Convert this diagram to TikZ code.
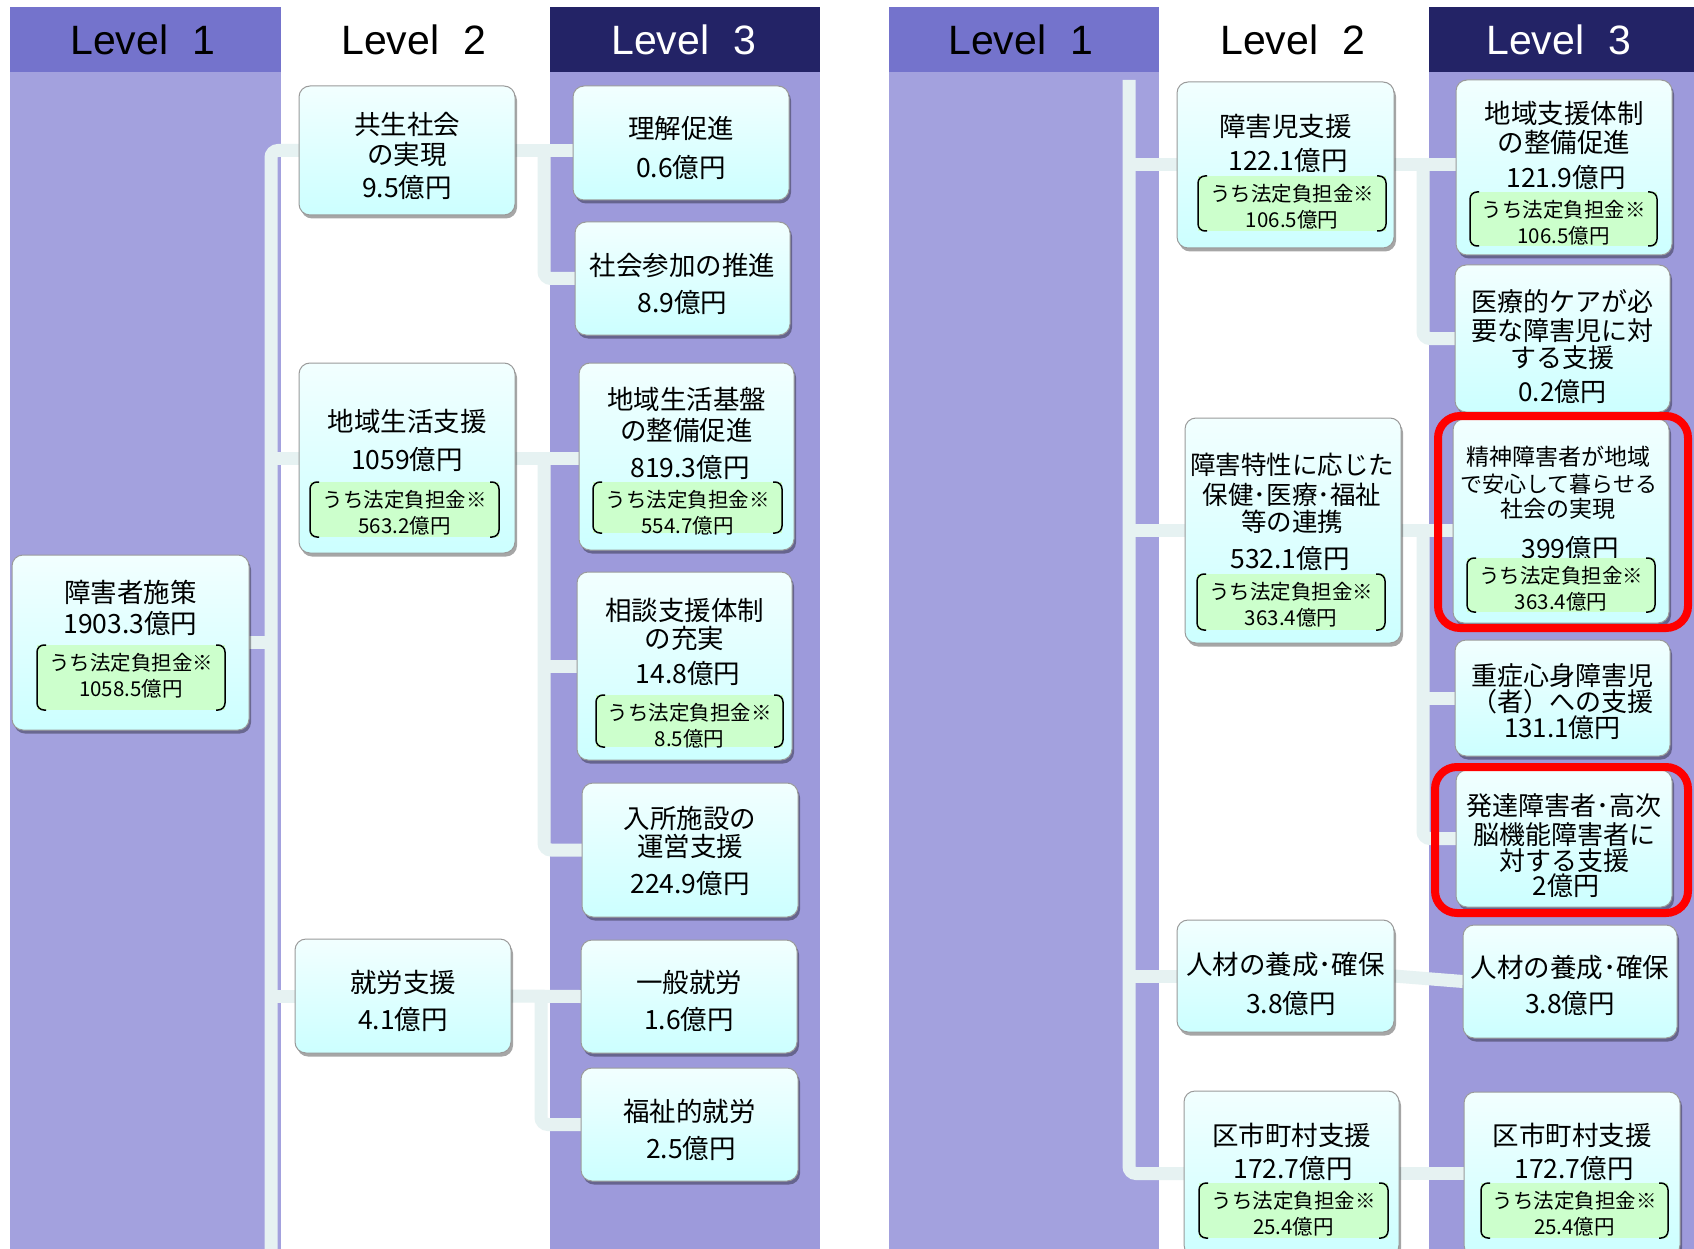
\documentclass[tikz,border=0pt]{standalone}
\usepackage{fontspec}
\newfontfamily\jp{Noto Sans CJK JP}
\newfontfamily\lvl{Liberation Sans}
\usetikzlibrary{shadows,calc}
\definecolor{cOneH}{HTML}{7473CC}
\definecolor{cOneB}{HTML}{A3A1DE}
\definecolor{cThreeH}{HTML}{232366}
\definecolor{cThreeB}{HTML}{9D9ADB}
\definecolor{connc}{HTML}{E6F2F2}
\definecolor{boxtop}{HTML}{F2FFFF}
\definecolor{boxbot}{HTML}{CCFFFF}
\definecolor{boxline}{HTML}{9A9A9A}
\definecolor{gcol}{HTML}{CCFFCC}
\pgfdeclarelayer{bg}
\pgfdeclarelayer{cn}
\pgfsetlayers{bg,cn,main}
\tikzset{
  boxs/.style={draw=boxline, line width=1pt, rounded corners=11pt, top color=boxtop, bottom color=boxbot,
    drop shadow={shadow xshift=2pt, shadow yshift=-3.5pt, fill=black, opacity=0.35}, inner sep=0pt, outer sep=0pt},
  gbox/.style={fill=gcol, inner sep=0pt, outer sep=0pt},
  brk/.style={draw=black, line width=1.5pt, rounded corners=7pt},
  txt/.style={inner sep=0pt, outer sep=0pt},
  conn/.style={draw=connc, line width=13pt, rounded corners=7pt},
  hl/.style={draw=red, line width=8pt, rounded corners=22pt, inner sep=0pt, fill=none},
  hdr/.style={font=\lvl\fontsize{41}{41}\selectfont, anchor=base, inner sep=0pt},
}
\newcommand\Bx[5]{\node[boxs, minimum width={#4-#2}, minimum height={#5-#3}] (#1) at ({(#2+#4)/2},{(#3+#5)/2}) {};}
\newcommand\Tx[5]{\node[txt, font={\jp\fontsize{#4}{#4}\selectfont}, anchor=base] (#1) at ({#2},{#3+0.38*#4}) {#5};}
\newcommand\Gb[6]{%
  \node[gbox, minimum width={#4-#2}, minimum height={#5-#3}] (#1) at ({(#2+#4)/2},{(#3+#5)/2}) {};
  \draw[brk] ([xshift=9pt]#1.north west) -- (#1.north west) -- (#1.south west) -- ([xshift=9pt]#1.south west);
  \draw[brk] ([xshift=-9pt]#1.north east) -- (#1.north east) -- (#1.south east) -- ([xshift=-9pt]#1.south east);
  \Tx{#1-1}{(#2+#4)/2}{(#3+18)}{20.5}{うち法定負担金※}
  \Tx{#1-2}{(#2+#4)/2}{(#3+44)}{20.5}{#6}}
\begin{document}
\begin{tikzpicture}[x=1pt,y=-1pt]
\useasboundingbox (0,0) rectangle (1694,1249);
% columns
\begin{pgfonlayer}{bg}
\fill[white] (0,0) rectangle (1694,1249);
\fill[cOneB] (10,72) rectangle (281,1260);
\fill[cOneH] (10,7) rectangle (281,72);
\fill[cThreeB] (550,72) rectangle (820,1260);
\fill[cThreeH] (550,7) rectangle (820,72);
\fill[cOneB] (889,72) rectangle (1159,1260);
\fill[cOneH] (889,7) rectangle (1159,72);
\fill[cThreeB] (1429,72) rectangle (1694,1260);
\fill[cThreeH] (1429,7) rectangle (1694,72);
\end{pgfonlayer}
% headers
\node[hdr] (h-l1) at (143,55) {Level\hspace{0.6em}1};
\node[hdr] (h-l2) at (414,55) {Level\hspace{0.6em}2};
\node[hdr, text=white] (h-l3) at (684,55) {Level\hspace{0.6em}3};
\node[hdr] (h-r1) at (1021,55) {Level\hspace{0.6em}1};
\node[hdr] (h-r2) at (1293,55) {Level\hspace{0.6em}2};
\node[hdr, text=white] (h-r3) at (1559,55) {Level\hspace{0.6em}3};
% ---------- left boxes
\Bx{l-root}{12}{555}{249}{730}
\Bx{l-a}{299}{86}{515}{215}
\Bx{l-b}{299}{363}{515}{553}
\Bx{l-c}{295}{939}{511}{1053}
\Bx{l-a1}{573}{86}{789}{200}
\Bx{l-a2}{575}{222}{790}{335}
\Bx{l-b1}{579}{363}{794}{550}
\Bx{l-b2}{577}{572}{792}{760}
\Bx{l-b3}{582}{783}{798}{917}
\Bx{l-c1}{581}{940}{797}{1053}
\Bx{l-c2}{581}{1068}{798}{1181}
% ---------- right boxes
\Bx{r-a}{1177}{82}{1394}{248}
\Bx{r-b}{1185}{418}{1401}{643}
\Bx{r-c}{1177}{920}{1394}{1032}
\Bx{r-d}{1184}{1091}{1399}{1256}
\Bx{r-a1}{1456}{80}{1672}{255}
\Bx{r-a2}{1455}{265}{1670}{412}
\Bx{r-b1}{1453}{419}{1669}{623}
\Bx{r-b2}{1455}{640}{1670}{756}
\Bx{r-b3}{1456}{770}{1672}{907}
\Bx{r-c1}{1463}{925}{1677}{1038}
\Bx{r-d1}{1464}{1092}{1680}{1256}
% ---------- connectors
\coordinate (lbus) at (271,1262);
\coordinate (lbusA) at (544,0);
\coordinate (lbusC) at (541,0);
\coordinate (rbustop) at (1129,80);
\coordinate (rbusA) at (1423,0);
\begin{pgfonlayer}{cn}
\draw[conn] (l-a.west) -| (lbus);
\draw[conn] (l-b.west -| lbus) -- (l-b.west);
\draw[conn] (l-c.west -| lbus) -- (l-c.west);
\draw[conn] (l-root.east) -- (l-root.east -| lbus);
\draw[conn] (l-a.east) -- (l-a.east -| l-a1.west);
\draw[conn] (l-a.east -| lbusA) |- (l-a2.west);
\draw[conn] (l-b.east) -- (l-b.east -| l-b1.west);
\draw[conn] (l-b.east -| lbusA) |- (l-b3.west);
\draw[conn] (l-b2.west -| lbusA) -- (l-b2.west);
\draw[conn] (l-c.east) -- (l-c1.west);
\draw[conn] (l-c.east -| lbusC) |- (l-c2.west);
\draw[conn] (rbustop) |- (r-d.west);
\draw[conn] (r-a.west -| rbustop) -- (r-a.west);
\draw[conn] (r-b.west -| rbustop) -- (r-b.west);
\draw[conn] (r-c.west -| rbustop) -- (r-c.west);
\draw[conn] (r-a.east) -- (r-a.east -| r-a1.west);
\draw[conn] (r-a.east -| rbusA) |- (r-a2.west);
\draw[conn] (r-b.east) -- (r-b.east -| r-b1.west);
\draw[conn] (r-b.east -| rbusA) |- (r-b3.west);
\draw[conn] (r-b2.west -| rbusA) -- (r-b2.west);
\draw[conn] (r-c.east) -- (r-c1.west);
\draw[conn] (r-d.east) -- (r-d.east -| r-d1.west);
\end{pgfonlayer}
% ---------- left texts
\Tx{l-root-1}{130.5}{592}{26.5}{障害者施策}
\Tx{l-root-2}{130.5}{623}{26.5}{1903.3億円}
\Gb{l-root-g}{37}{645}{225}{710}{1058.5億円}
\Tx{l-a-1}{407}{124}{26.5}{共生社会}
\Tx{l-a-2}{407}{154}{26.5}{の実現}
\Tx{l-a-3}{407}{187}{26.5}{9.5億円}
\Tx{l-b-1}{407}{421}{26.5}{地域生活支援}
\Tx{l-b-2}{407}{459}{26.5}{1059億円}
\Gb{l-b-g}{310}{482}{499}{537}{563.2億円}
\Tx{l-c-1}{403}{982}{26.5}{就労支援}
\Tx{l-c-2}{403}{1019}{26.5}{4.1億円}
\Tx{l-a1-1}{681}{128}{26.5}{理解促進}
\Tx{l-a1-2}{681}{167}{26.5}{0.6億円}
\Tx{l-a2-1}{682.5}{265}{26.5}{社会参加の推進}
\Tx{l-a2-2}{682.5}{302}{26.5}{8.9億円}
\Tx{l-b1-1}{686.5}{399}{26.5}{地域生活基盤}
\Tx{l-b1-2}{686.5}{430}{26.5}{の整備促進}
\Tx{l-b1-3}{690}{467}{26.5}{819.3億円}
\Gb{l-b1-g}{593}{482}{782}{533}{554.7億円}
\Tx{l-b2-1}{684.5}{610}{26.5}{相談支援体制}
\Tx{l-b2-2}{684.5}{638}{26.5}{の充実}
\Tx{l-b2-3}{688}{673}{26.5}{14.8億円}
\Gb{l-b2-g}{596}{695}{783}{747}{8.5億円}
\Tx{l-b3-1}{690}{818}{26.5}{入所施設の}
\Tx{l-b3-2}{690}{846}{26.5}{運営支援}
\Tx{l-b3-3}{690}{883}{26.5}{224.9億円}
\Tx{l-c1-1}{689}{982}{26.5}{一般就労}
\Tx{l-c1-2}{689}{1019}{26.5}{1.6億円}
\Tx{l-c2-1}{689.5}{1111}{26.5}{福祉的就労}
\Tx{l-c2-2}{691}{1148}{26.5}{2.5億円}
% ---------- right texts
\Tx{r-a-1}{1285.5}{126}{26.5}{障害児支援}
\Tx{r-a-2}{1288}{160}{26.5}{122.1億円}
\Gb{r-a-g}{1198}{176}{1386}{231}{106.5億円}
\Tx{r-a1-1}{1564}{113}{26.5}{地域支援体制}
\Tx{r-a1-2}{1564}{142}{26.5}{の整備促進}
\Tx{r-a1-3}{1566}{177}{26.5}{121.9億円}
\Gb{r-a1-g}{1470}{192}{1657}{246}{106.5億円}
\Tx{r-a2-1}{1562.5}{302}{26}{医療的ケアが必}
\Tx{r-a2-2}{1562.5}{331}{26}{要な障害児に対}
\Tx{r-a2-3}{1562.5}{358}{26}{する支援}
\Tx{r-a2-4}{1562.5}{392}{26}{0.2億円}
\Tx{r-b-1}{1292}{465}{25.5}{障害特性に応じた}
\Tx{r-b-2}{1292}{495}{25.5}{保健･医療･福祉}
\Tx{r-b-3}{1292}{522}{25.5}{等の連携}
\Tx{r-b-4}{1290}{558}{26.5}{532.1億円}
\Gb{r-b-g}{1197}{574}{1385}{630}{363.4億円}
\Tx{r-b1-1}{1558}{457}{23}{精神障害者が地域}
\Tx{r-b1-2}{1559}{484}{22}{で安心して暮らせる}
\Tx{r-b1-3}{1558}{509}{23}{社会の実現}
\Tx{r-b1-4}{1570}{548}{26.5}{399億円}
\Gb{r-b1-g}{1467}{558}{1655}{612}{363.4億円}
\Tx{r-b2-1}{1562.5}{676}{26}{重症心身障害児}
\Tx{r-b2-2}{1562}{702}{26}{（者）への支援}
\Tx{r-b2-3}{1562.5}{728}{26}{131.1億円}
\Tx{r-b3-1}{1564}{806}{26}{発達障害者･高次}
\Tx{r-b3-2}{1564}{835}{26}{脳機能障害者に}
\Tx{r-b3-3}{1564}{861}{26}{対する支援}
\Tx{r-b3-4}{1566}{886}{26}{2億円}
\Tx{r-c-1}{1285.5}{964}{26.5}{人材の養成･確保}
\Tx{r-c-2}{1291}{1003}{26.5}{3.8億円}
\Tx{r-c1-1}{1570}{967}{26.5}{人材の養成･確保}
\Tx{r-c1-2}{1570}{1003}{26.5}{3.8億円}
\Tx{r-d-1}{1291.5}{1135}{26.5}{区市町村支援}
\Tx{r-d-2}{1293}{1168}{26.5}{172.7億円}
\Gb{r-d-g}{1199}{1183}{1388}{1238}{25.4億円}
\Tx{r-d1-1}{1572}{1135}{26.5}{区市町村支援}
\Tx{r-d1-2}{1574}{1168}{26.5}{172.7億円}
\Gb{r-d1-g}{1481}{1183}{1668}{1238}{25.4億円}
% ---------- highlights
\node[hl, minimum width=250, minimum height=212] (hl-1) at (1563,522) {};
\node[hl, minimum width=253, minimum height=146] (hl-2) at (1561.5,840) {};
\end{tikzpicture}
\end{document}
